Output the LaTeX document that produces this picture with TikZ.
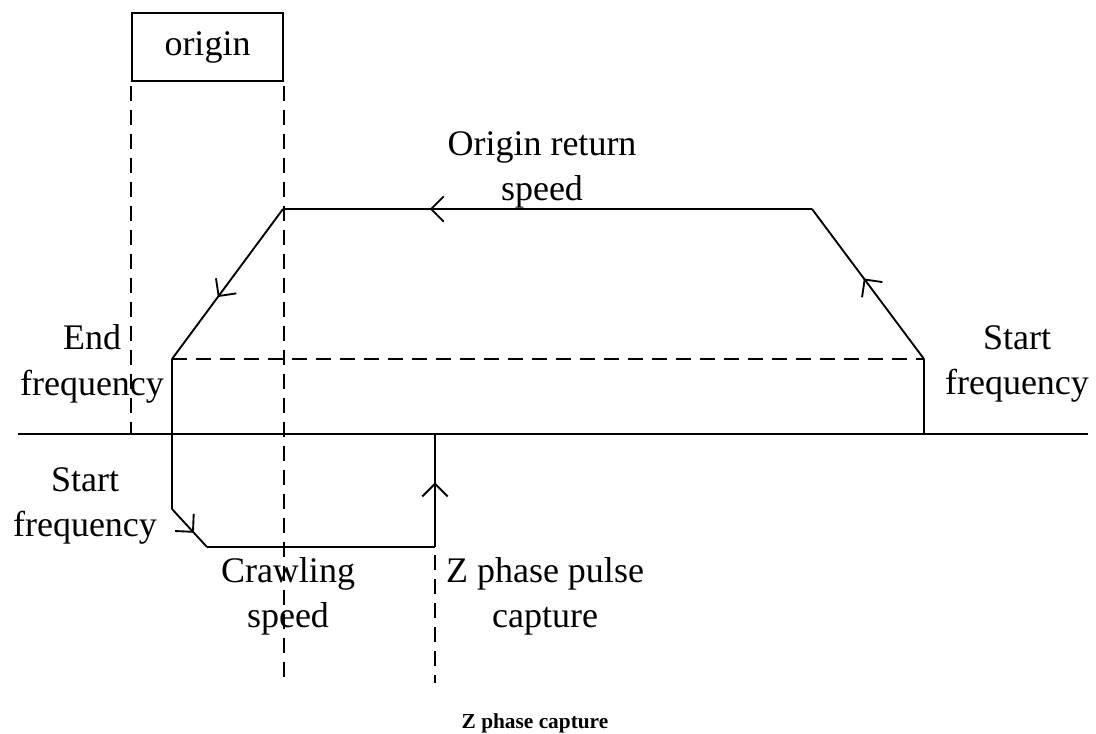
\documentclass[tikz,border=0pt]{standalone}
\usepackage{fontspec}
\setmainfont{Liberation Serif}
\usepackage{tikz}
\usetikzlibrary{arrows.meta, positioning, decorations.markings}

\tikzset{
  lbl/.style={align=center, inner sep=0pt, font=\fontsize{27}{34}\selectfont},
  curve/.style={line width=1.4pt},
  guide/.style={line width=1.3pt, dash pattern=on 11pt off 7pt},
  midarrow/.style={postaction={decorate, decoration={markings,
    mark=at position #1 with {\draw[curve] (-9.5pt,9.5pt) -- (0,0) -- (-9.5pt,-9.5pt);}}}}
}

\begin{document}
\begin{tikzpicture}[x=0.75pt, y=-0.75pt]
  \useasboundingbox (0,0) rectangle (1096,733);
  \node[draw, curve, lbl, minimum width=113pt, minimum height=51pt] (origin) at (207.5,47) {origin};

  \coordinate (s0) at (924,434);
  \coordinate (s1) at (924,359);
  \coordinate (s2) at (812,209);
  \coordinate (s3) at (283,209);
  \coordinate (s4) at (172,359);
  \coordinate (s5) at (172,509);
  \coordinate (s6) at (207,547);
  \coordinate (s7) at (435,547);
  \coordinate (s8) at (435,434);
  \coordinate (ax0) at (18,434);
  \coordinate (ax1) at (1088,434);

  \draw[curve] (ax0) -- (ax1);
  \draw[guide] ([yshift=-3pt]origin.south west) -- (origin.south west |- ax0);
  \draw[guide] ([yshift=-3pt]origin.south east) -- ++(0,593);
  \draw[guide] (s4) -- (s1);
  \draw[guide] ([yshift=-6pt]s7) -- ++(0,128);

  \draw[curve] (s0) -- (s1);
  \draw[curve, midarrow=0.53] (s1) -- (s2);
  \draw[curve, midarrow=0.72] (s2) -- (s3);
  \draw[curve, midarrow=0.58] (s3) -- (s4);
  \draw[curve] (s4) -- (s5);
  \draw[curve, midarrow=0.6] (s5) -- (s6);
  \draw[curve] (s6) -- (s7);
  \draw[curve, midarrow=0.56] (s7) -- (s8);

  \node[lbl] (retspeed) at (542,170) {Origin return\\speed};
  \node[lbl] (endfreq) at (92,364) {End\\frequency};
  \node[lbl] (startfreq) at (1017,364) {Start\\frequency};
  \node[lbl] (startlow) at (85,506) {Start\\frequency};
  \node[lbl] (crawl) at (288,596) {Crawling\\speed};
  \node[lbl] (zpulse) at (545,596) {Z phase pulse\\capture};
  \node[inner sep=0pt, font=\fontsize{16}{19}\selectfont\bfseries] (caption) at (535,723) {Z phase capture};
\end{tikzpicture}
\end{document}
